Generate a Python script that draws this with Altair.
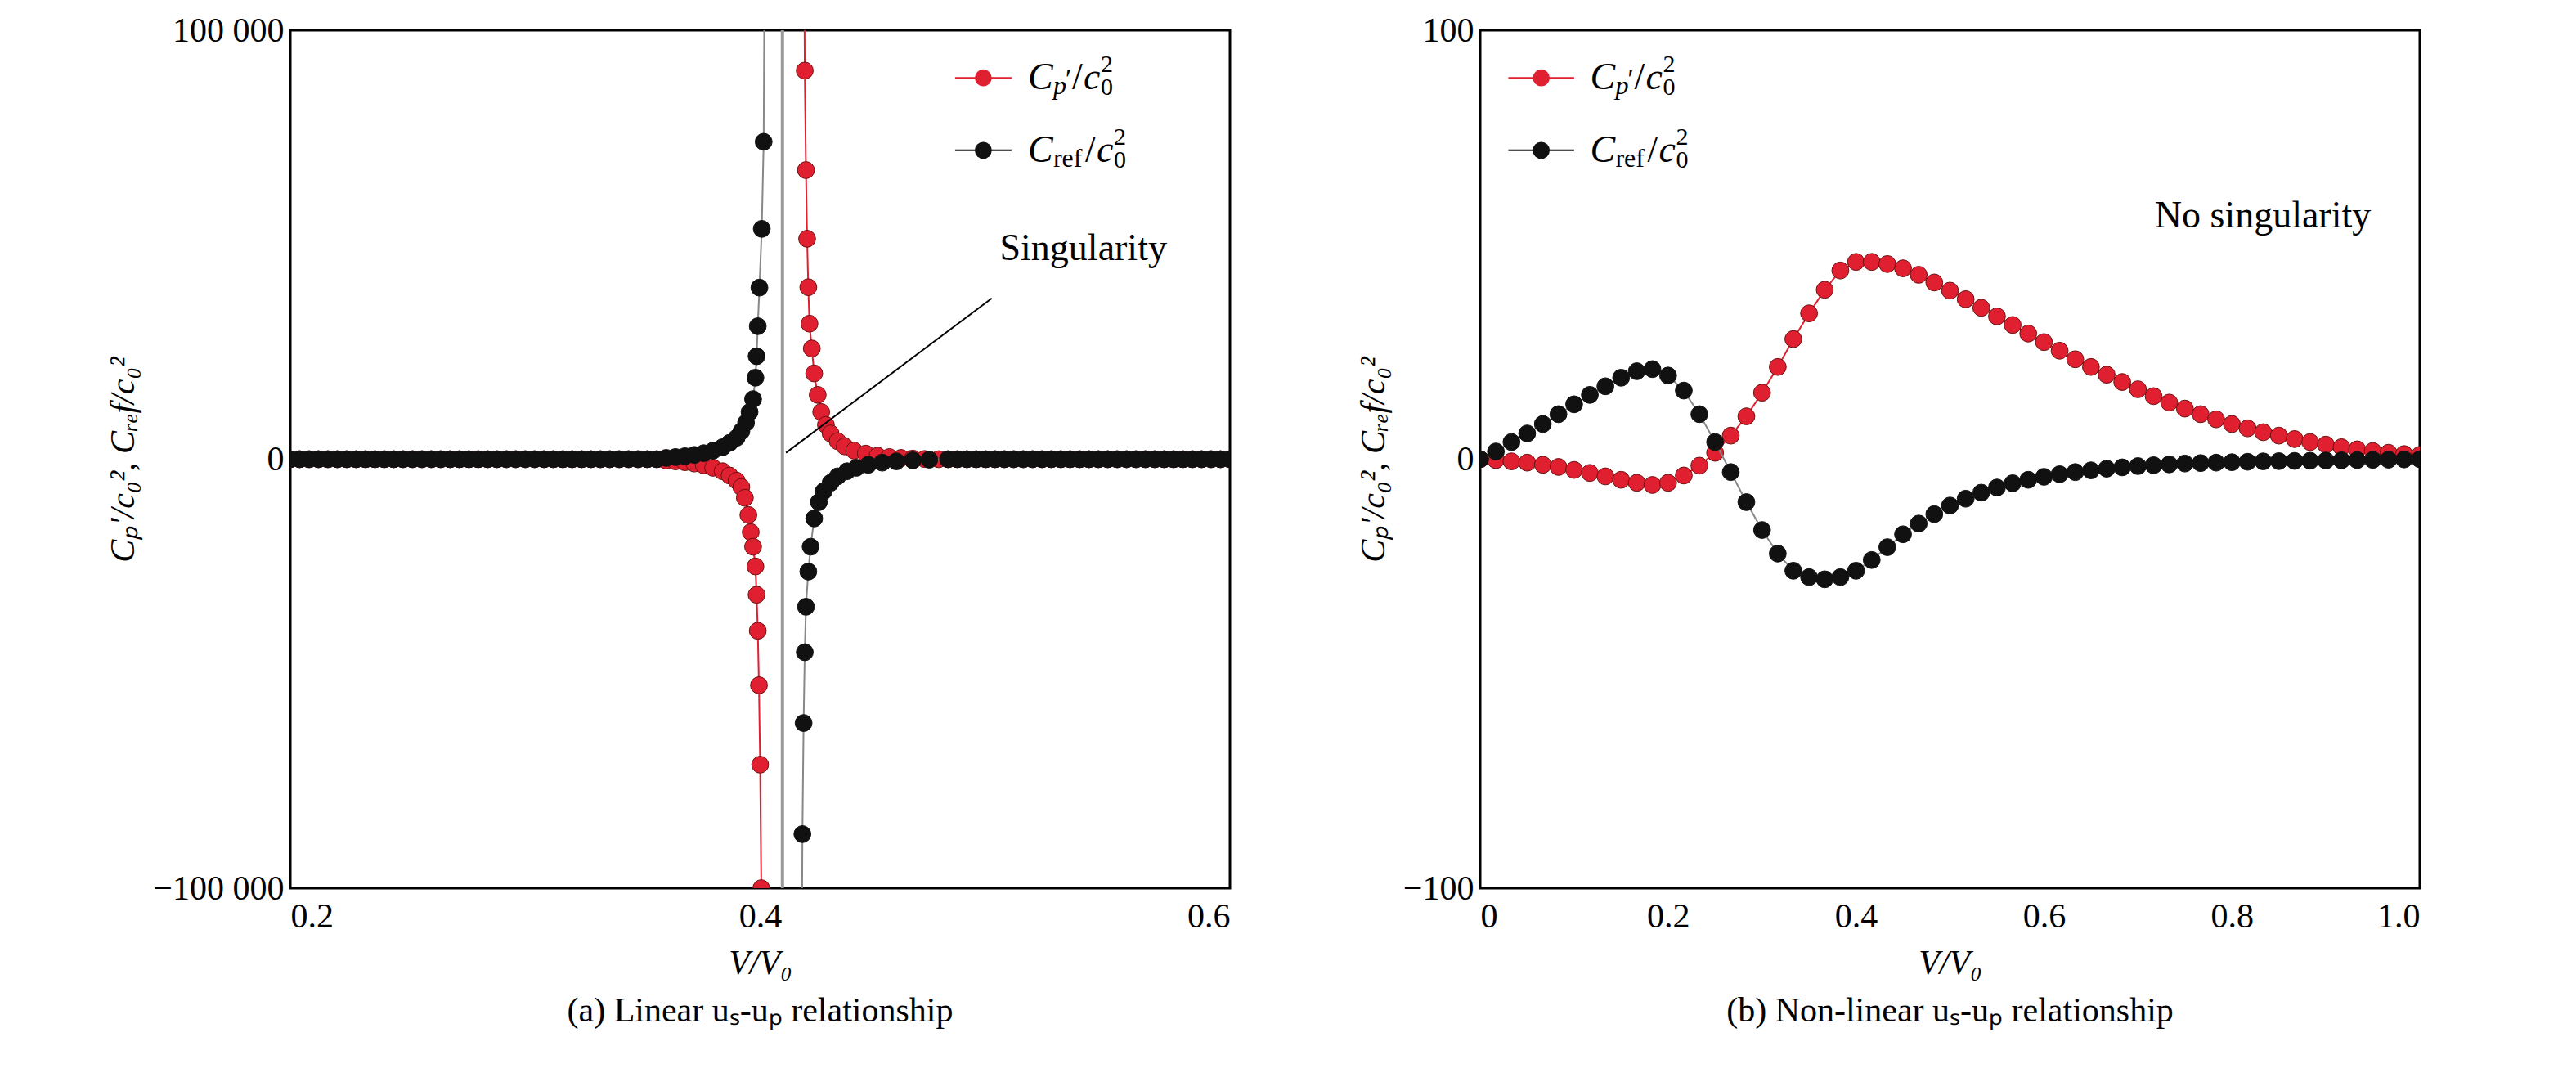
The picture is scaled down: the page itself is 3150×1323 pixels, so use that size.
import altair as alt
import pandas as pd
import numpy as np

FONT = "Liberation Serif"
RED = "#e02030"
BLK = "#111111"

# ---------- panel (a) data ----------
grid_left = [round(v, 3) for v in np.arange(0.2, 0.3565, 0.004)]
a_red_x = grid_left + [0.36, 0.364, 0.368, 0.372, 0.376, 0.38, 0.384, 0.387, 0.39, 0.392, 0.3935, 0.395,
                       0.396, 0.397, 0.398, 0.3985, 0.399, 0.3995, 0.4, 0.4005, 0.401]
a_red_y = [0] * len(grid_left) + [-300, -500, -700, -1000, -1400, -2000, -2800, -3800, -5000, -6500, -9000, -13000,
                                  -17000, -20400, -25000, -31600, -40000, -52700, -71200, -100000, -150000]
grid_right_r = [round(v, 3) for v in np.arange(0.476, 0.6005, 0.004)]
a_red2_x = [0.4185, 0.419, 0.4195, 0.42, 0.4205, 0.421, 0.422, 0.423, 0.4245, 0.426, 0.428, 0.43, 0.433, 0.436,
            0.44, 0.445, 0.45, 0.455, 0.46, 0.465, 0.47] + grid_right_r
a_red2_y = [150000, 90600, 67400, 51400, 40100, 31600, 25800, 20000, 15000, 11000, 8000, 6000, 4200, 3000,
            2000, 1300, 800, 500, 300, 150, 50] + [0] * len(grid_right_r)

a_blk_x = grid_left + [0.36, 0.364, 0.368, 0.372, 0.376, 0.38, 0.384, 0.387, 0.39, 0.392, 0.394, 0.3955,
                       0.397, 0.398, 0.3985, 0.399, 0.3997, 0.4007, 0.4015, 0.4022]
a_blk_y = [0] * len(grid_left) + [300, 500, 700, 1000, 1400, 2000, 2800, 3800, 5000, 6500, 8500, 11000,
                                  14000, 19000, 24000, 31000, 40000, 53700, 74000, 150000]
grid_right_b = [round(v, 3) for v in np.arange(0.484, 0.6005, 0.004)]
a_blk2_x = [0.4175, 0.418, 0.4185, 0.419, 0.4195, 0.4205, 0.4215, 0.423, 0.425, 0.427, 0.43, 0.433, 0.437,
            0.441, 0.446, 0.452, 0.458, 0.465, 0.472, 0.48] + grid_right_b
a_blk2_y = [-150000, -87400, -61500, -45000, -34400, -26200, -20400, -13800, -10000, -7500, -5500, -4000, -2800,
            -2000, -1300, -800, -500, -250, -100, 0] + [0] * len(grid_right_b)

# ---------- panel (b) data ----------
b_x = [round(k / 60, 4) for k in range(61)]
b_red = [0, -0.2, -0.5, -0.8, -1.3, -1.8, -2.5, -3.2, -4.0, -4.8, -5.5, -6.0, -5.5, -3.8, -1.5, 1.5, 5.5, 10,
         15.5, 21.5, 28, 34, 39.5, 44, 46, 46, 45.5, 44.5, 43, 41.2, 39.3, 37.3, 35.3, 33.3, 31.3, 29.3, 27.3,
         25.3, 23.3, 21.5, 19.7, 18, 16.3, 14.7, 13.2, 11.8, 10.5, 9.3, 8.2, 7.2, 6.3, 5.5, 4.7, 4.0, 3.4,
         2.8, 2.3, 1.9, 1.5, 1.2, 1.0]
b_blk = [0, 1.8, 4, 6, 8.2, 10.5, 12.8, 15, 17, 19, 20.5, 21, 19.5, 16, 10.5, 4, -3, -10, -16.5, -22, -26,
         -27.5, -28, -27.5, -26, -23.5, -20.5, -17.5, -15, -12.8, -10.8, -9.2, -7.8, -6.6, -5.6, -4.8, -4.1,
         -3.5, -3.0, -2.6, -2.2, -1.9, -1.6, -1.4, -1.2, -1.0, -0.9, -0.8, -0.7, -0.6, -0.5, -0.45, -0.4,
         -0.35, -0.3, -0.25, -0.2, -0.15, -0.1, -0.05, 0]

W, H = 1149, 1049


def series(xs, ys, color, xsc, ysc, lim):
    df = pd.DataFrame({"x": xs, "y": ys})
    line = alt.Chart(df).mark_line(color="#888888" if color == BLK else color, strokeWidth=2, clip=True).encode(
        x=alt.X("x:Q", scale=xsc), y=alt.Y("y:Q", scale=ysc))
    pts = alt.Chart(df[df.y.abs() <= lim]).mark_point(filled=True, size=430, color=color, opacity=1,
                                                       stroke="#6a1010" if color == RED else BLK,
                                                       strokeWidth=1, clip=True).encode(
        x=alt.X("x:Q", scale=xsc), y=alt.Y("y:Q", scale=ysc))
    return line + pts


def rich(x, y, pieces):
    layers = []
    df = pd.DataFrame({"x": [x], "y": [y]})
    for txt, size, dx, dy, ital in pieces:
        layers.append(alt.Chart(df).mark_text(text=txt, font=FONT, fontSize=size, dx=dx, dy=dy, align="left",
                                              baseline="middle", fontStyle="italic" if ital else "normal",
                                              color="black").encode(x="x:Q", y="y:Q"))
    return layers


def legend(x0, x1, xt, y1, y2, xsc, ysc):
    out = []
    for yy, col in [(y1, RED), (y2, BLK)]:
        d = pd.DataFrame({"x": [x0, x1], "y": [yy, yy]})
        out.append(alt.Chart(d).mark_line(color=col, strokeWidth=2).encode(
            x=alt.X("x:Q", scale=xsc), y=alt.Y("y:Q", scale=ysc)))
        d2 = pd.DataFrame({"x": [(x0 + x1) / 2], "y": [yy]})
        out.append(alt.Chart(d2).mark_point(filled=True, size=430, color=col, opacity=1).encode(
            x=alt.X("x:Q", scale=xsc), y=alt.Y("y:Q", scale=ysc)))
    out += rich(xt, y1, [("C", 46, 0, 0, True), ("p", 32, 31, 10, True), ("′", 32, 46, 2, False),
                         ("/", 46, 54, 0, False), ("c", 46, 68, 0, True), ("0", 30, 89, 12, False),
                         ("2", 30, 89, -16, False)])
    out += rich(xt, y2, [("C", 46, 0, 0, True), ("ref", 32, 31, 10, False),
                         ("/", 46, 70, 0, False), ("c", 46, 84, 0, True), ("0", 30, 105, 12, False),
                         ("2", 30, 105, -16, False)])
    return out


xa = alt.Scale(domain=[0.2, 0.6], nice=False, zero=False)
ya = alt.Scale(domain=[-100000, 100000], nice=False)
xb = alt.Scale(domain=[0, 1], nice=False)
yb = alt.Scale(domain=[-100, 100], nice=False)

ytitle = "Cₚ′/c₀², Cᵣₑf/c₀²"
axx = dict(labelFont=FONT, labelFontSize=42, titleFont=FONT, titleFontSize=42, titleFontStyle="italic",
           titleFontWeight="normal", ticks=False, grid=False, domain=False, labelPadding=14, titlePadding=16)
axy = dict(labelFont=FONT, labelFontSize=42, titleFont=FONT, titleFontSize=42, titleFontStyle="italic",
           titleFontWeight="normal", ticks=False, grid=False, domain=False, labelPadding=8, titlePadding=14)

base_a = alt.Chart(pd.DataFrame({"x": [0.2], "y": [0]})).mark_point(opacity=0).encode(
    x=alt.X("x:Q", scale=xa, title="V/V₀",
            axis=alt.Axis(values=[0.2, 0.4, 0.6], format=".1f", **axx)),
    y=alt.Y("y:Q", scale=ya, title=ytitle,
            axis=alt.Axis(values=[-100000, 0, 100000],
                          labelExpr="replace(format(datum.value, ','), ',', ' ')", **axy)))

sing = alt.Chart(pd.DataFrame({"x": [0.4095], "y": [-100000], "y2": [100000]})).mark_rule(
    color="#999999", strokeWidth=4).encode(x=alt.X("x:Q", scale=xa), y=alt.Y("y:Q", scale=ya), y2="y2:Q")
lead = alt.Chart(pd.DataFrame({"x": [0.411, 0.4986], "y": [1500, 37500]})).mark_line(
    color="black", strokeWidth=2).encode(x=alt.X("x:Q", scale=xa), y=alt.Y("y:Q", scale=ya))
stext = alt.Chart(pd.DataFrame({"x": [0.502], "y": [49000]})).mark_text(
    text="Singularity", font=FONT, fontSize=46, align="left", baseline="middle").encode(
    x=alt.X("x:Q", scale=xa), y=alt.Y("y:Q", scale=ya))

left = alt.layer(
    base_a, sing,
    series(a_red_x, a_red_y, RED, xa, ya, 100000),
    series(a_red2_x, a_red2_y, RED, xa, ya, 100000),
    series(a_blk_x, a_blk_y, BLK, xa, ya, 100000),
    series(a_blk2_x, a_blk2_y, BLK, xa, ya, 100000),
    lead, stext,
    *legend(0.483, 0.507, 0.514, 88900, 72000, xa, ya)
).properties(width=W, height=H, title=alt.TitleParams("(a) Linear uₛ-uₚ relationship", orient="bottom",
                                                          font=FONT, fontSize=42, fontWeight="normal", offset=18))

base_b = alt.Chart(pd.DataFrame({"x": [0], "y": [0]})).mark_point(opacity=0).encode(
    x=alt.X("x:Q", scale=xb, title="V/V₀",
            axis=alt.Axis(values=[0, 0.2, 0.4, 0.6, 0.8, 1.0],
                          labelExpr="datum.value == 0 ? '0' : format(datum.value, '.1f')", **axx)),
    y=alt.Y("y:Q", scale=yb, title=ytitle, axis=alt.Axis(values=[-100, 0, 100], **axy)))
ntext = alt.Chart(pd.DataFrame({"x": [0.948], "y": [56.7]})).mark_text(
    text="No singularity", font=FONT, fontSize=46, align="right", baseline="middle").encode(
    x=alt.X("x:Q", scale=xb), y=alt.Y("y:Q", scale=yb))

right = alt.layer(
    base_b,
    series(b_x, b_red, RED, xb, yb, 100),
    series(b_x, b_blk, BLK, xb, yb, 100),
    ntext,
    *legend(0.03, 0.10, 0.117, 88.9, 72, xb, yb)
).properties(width=W, height=H, title=alt.TitleParams("(b) Non-linear uₛ-uₚ relationship", orient="bottom",
                                                          font=FONT, fontSize=42, fontWeight="normal", offset=18))

chart = alt.hconcat(left, right, spacing=150).configure(
    background="white", padding={"left": 120, "top": 6, "right": 10, "bottom": 5}
).configure_view(stroke="black", strokeWidth=3)

chart.save("out.html", embed_options={"renderer": "svg", "actions": False})
